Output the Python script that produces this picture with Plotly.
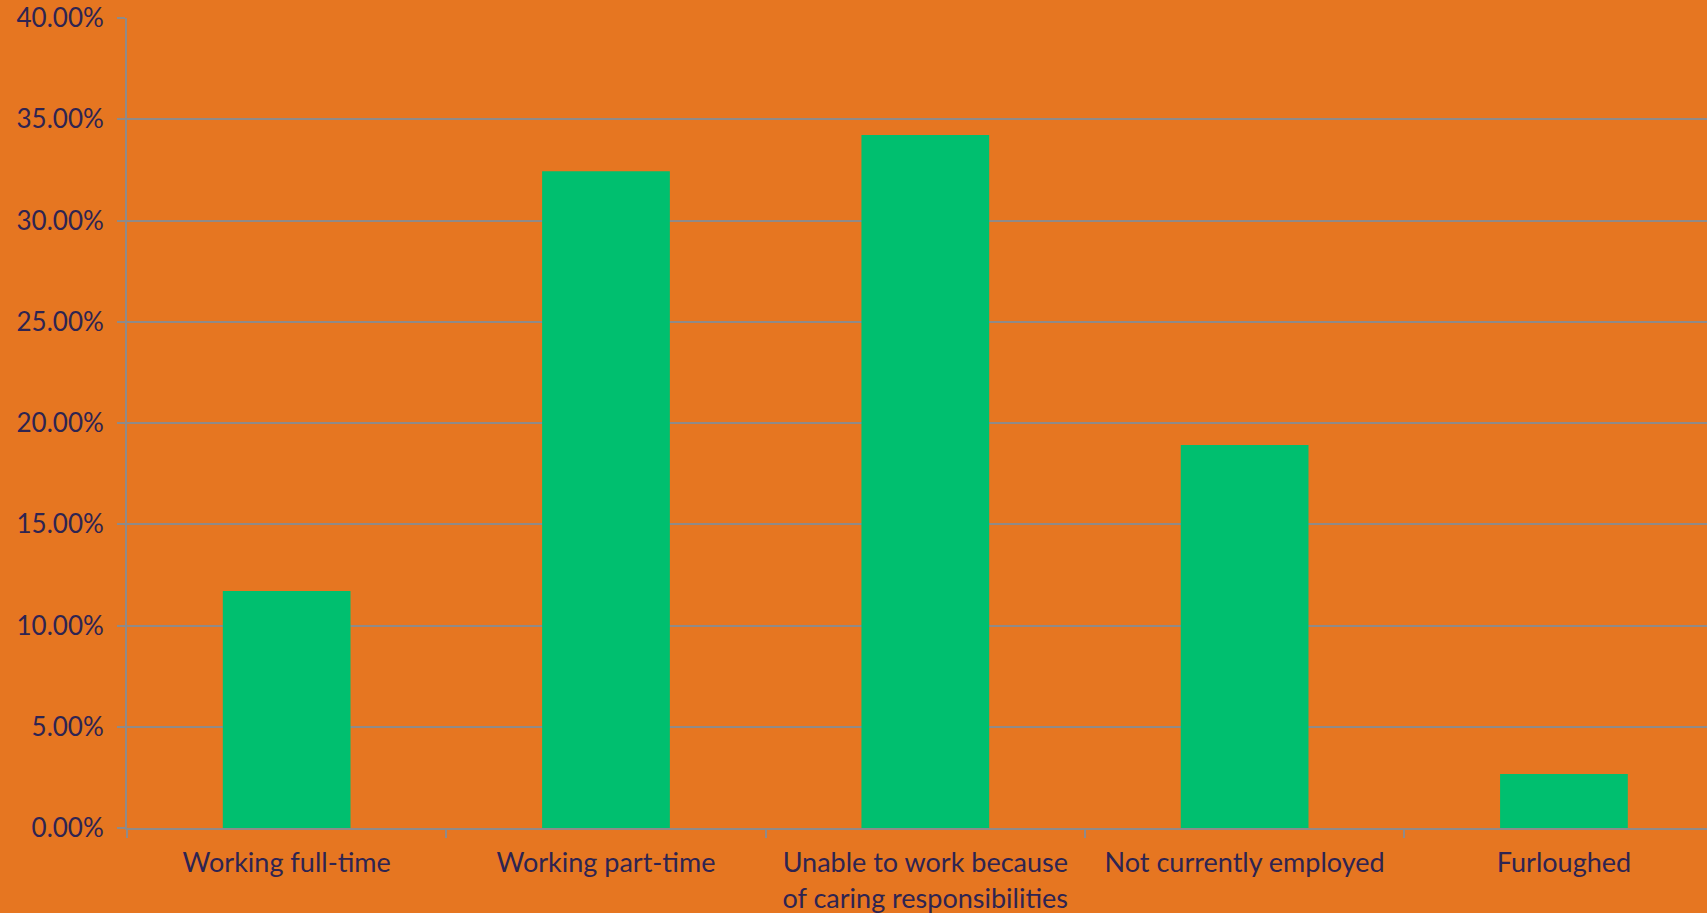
import plotly.graph_objects as go

categories = [
    "Working full-time",
    "Working part-time",
    "Unable to work because<br>of caring responsibilities",
    "Not currently employed",
    "Furloughed",
]
values = [0.117, 0.3243, 0.3422, 0.1891, 0.0267]

BG = "#E67621"
GREEN = "#00BF6F"
GRID = "#8F8A88"
TXT = "#2E2452"
FONT = "Lato"

fig = go.Figure(
    go.Bar(x=categories, y=values, marker=dict(color=GREEN, line=dict(width=0)), width=0.4)
)

fig.update_layout(
    width=1707,
    height=913,
    paper_bgcolor=BG,
    plot_bgcolor=BG,
    margin=dict(l=127, r=0, t=18, b=85),
    showlegend=False,
    font=dict(family=FONT, size=26, color=TXT),
    bargap=0.6,
)
fig.update_yaxes(
    range=[0, 0.40],
    dtick=0.05,
    tickformat=".2%",
    showgrid=True,
    gridcolor=GRID,
    gridwidth=2,
    showline=True,
    linecolor=GRID,
    linewidth=2,
    ticks="outside",
    ticklen=8,
    tickcolor=GRID,
    tickwidth=2,
    zeroline=False,
    tickfont=dict(family=FONT, size=26, color=TXT),
    ticklabelstandoff=8,
)
fig.update_xaxes(
    range=[-0.5, 4.448],
    showgrid=False,
    showline=True,
    linecolor=GRID,
    linewidth=2,
    ticks="outside",
    tickson="boundaries",
    ticklen=8,
    tickcolor=GRID,
    tickwidth=2,
    tickfont=dict(family=FONT, size=27, color=TXT),
    tickangle=0,
    ticklabelstandoff=10,
)

fig.write_html("out.html")
